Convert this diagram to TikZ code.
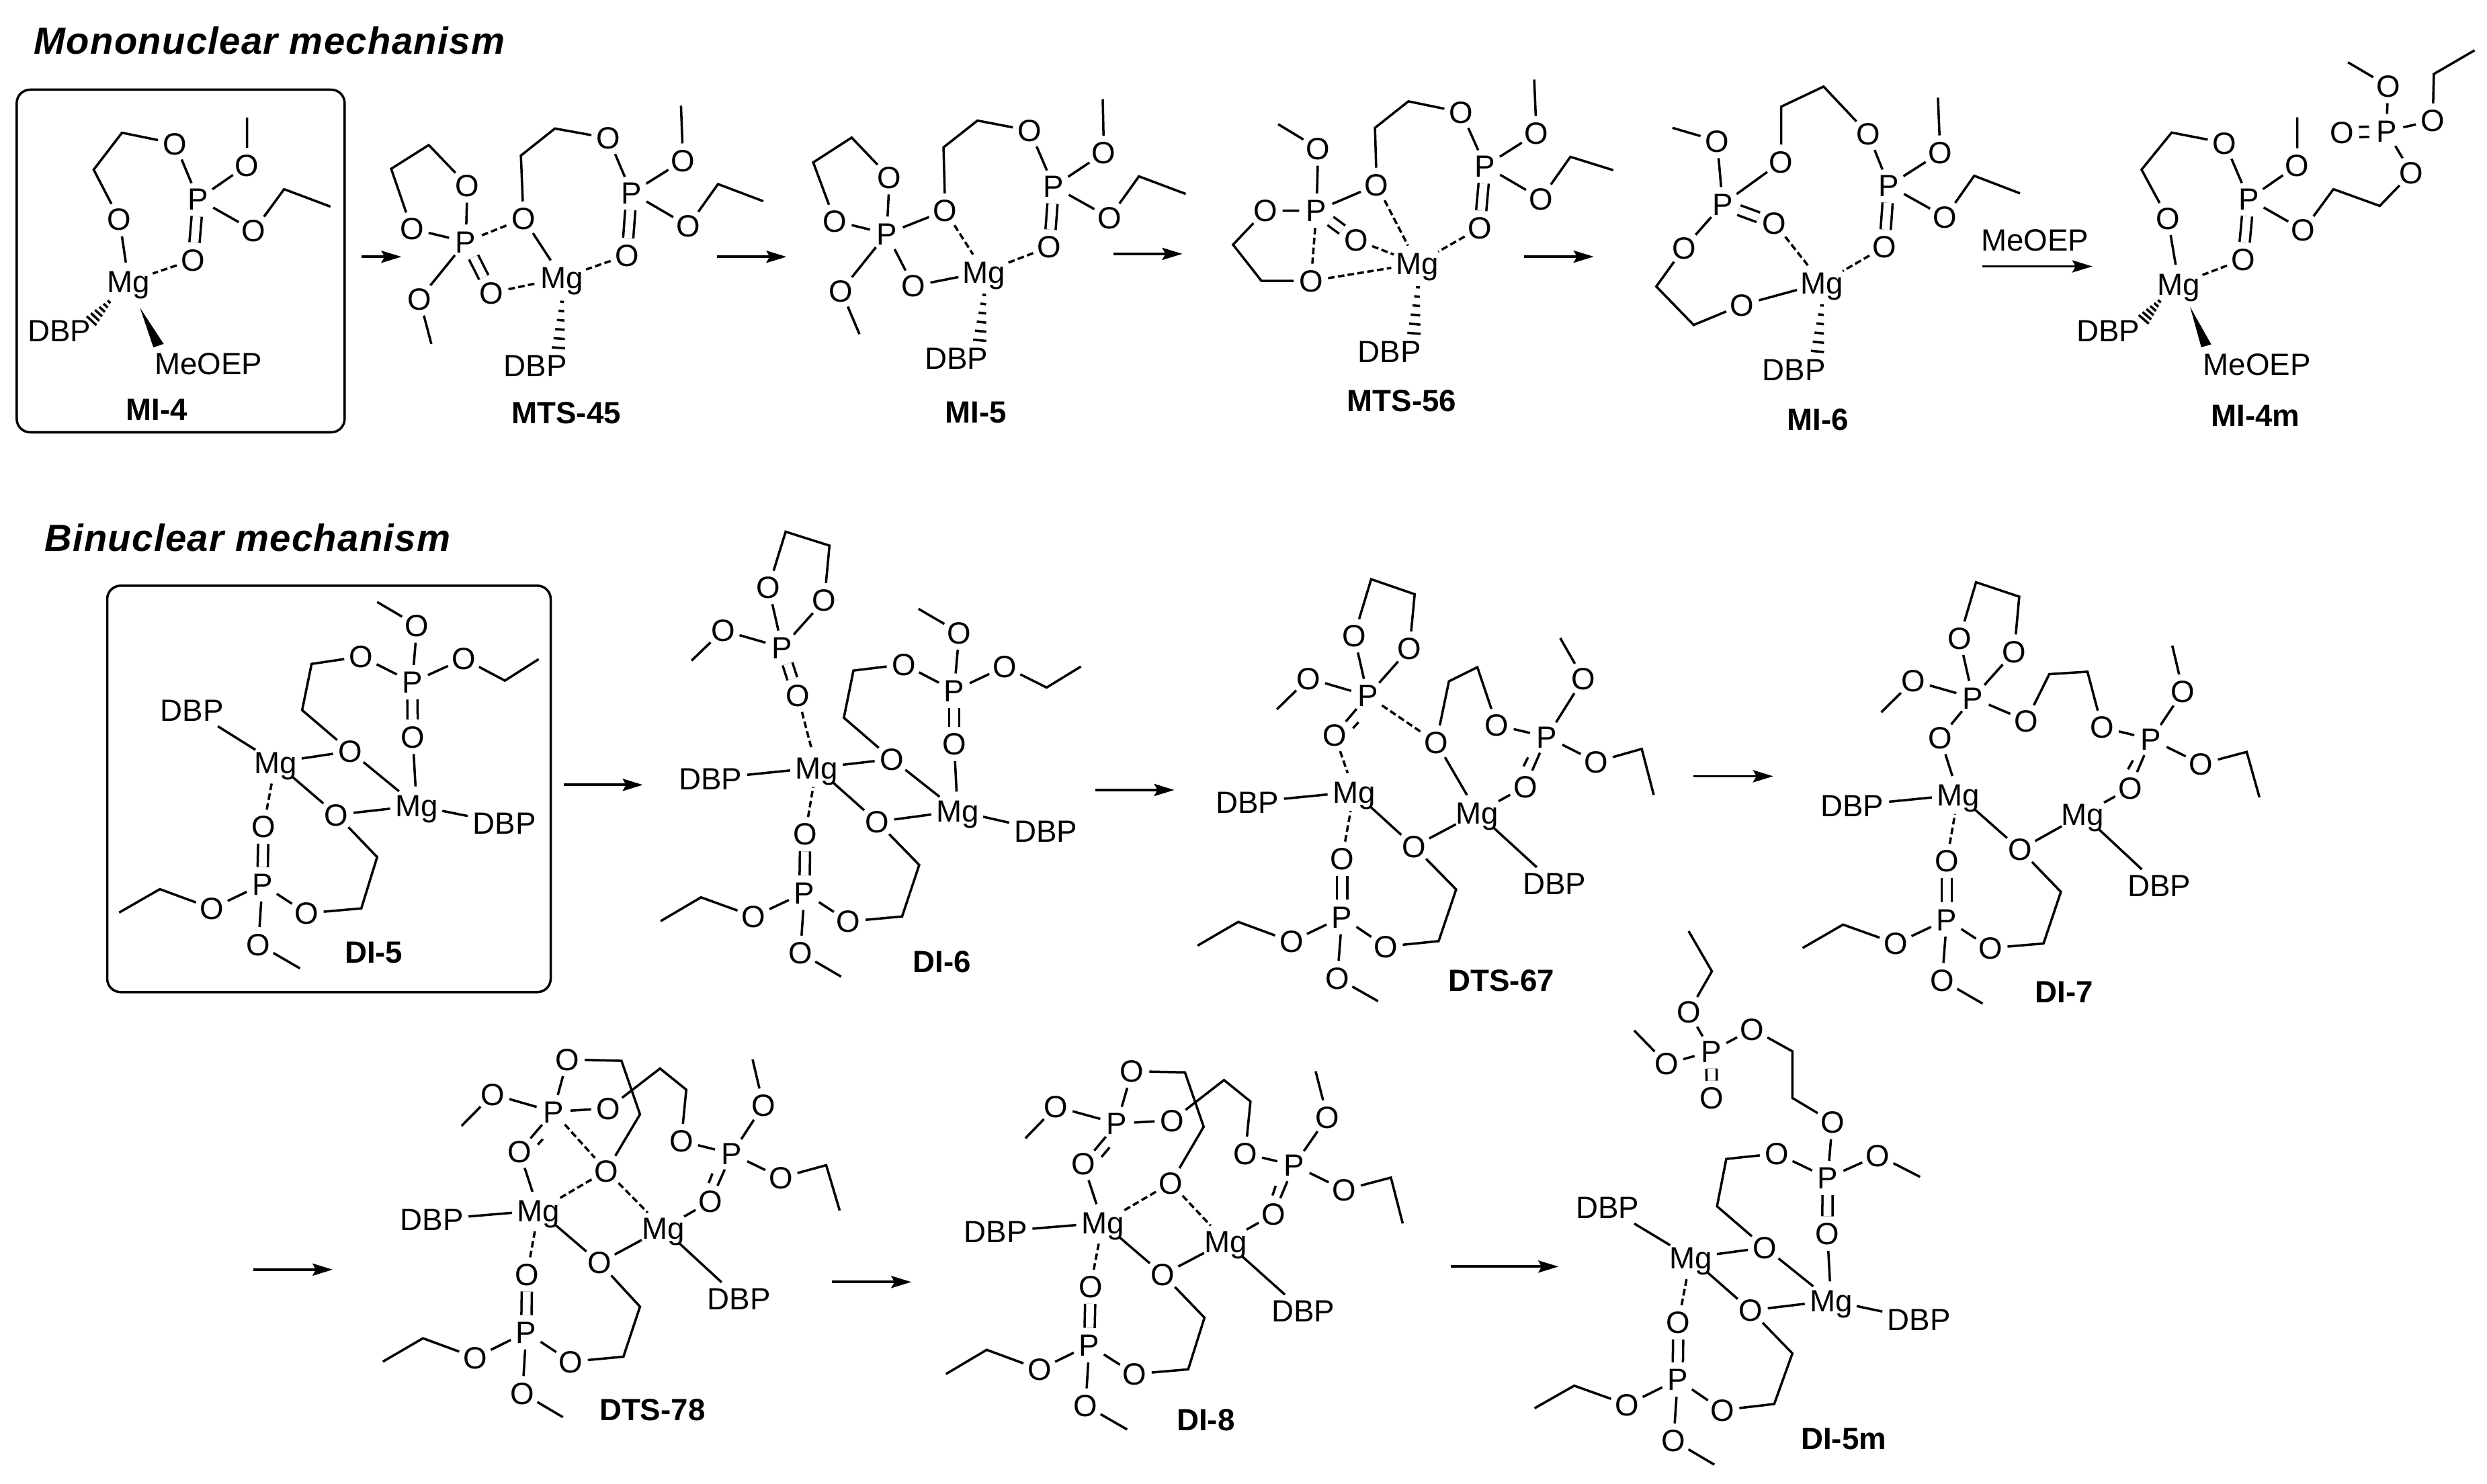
\documentclass[tikz,border=0pt]{standalone}
\usepackage{fontspec}
\setmainfont{Liberation Sans}
\usetikzlibrary{arrows.meta,calc,shapes.geometric}
\tikzset{
 atomtxt/.style={inner sep=0pt,text height=9.3pt,text depth=0pt,font=\fontsize{13}{13}\selectfont},
 atom/.style={atomtxt,circle,minimum size=.5cm},
 mgatom/.style={atomtxt,ellipse,inner xsep=-2.5pt,minimum width=.78cm,minimum height=.56cm},
 group/.style={atomtxt,rectangle,inner sep=2pt},
 cmpd/.style={inner sep=0pt,font=\fontsize{13}{13}\bfseries\selectfont},
 headline/.style={inner sep=0pt,anchor=west,font=\fontsize{16}{16}\bfseries\itshape\selectfont\addfontfeature{LetterSpace=2.4}},
 bond/.style={line width=1pt,line join=miter},
 dbl/.style={line width=1pt,double,double distance=3.3pt},
 part/.style={line width=1pt,dash pattern=on 2.8pt off 1.4pt},
 hashline/.style={line width=1pt},
 rxn/.style={line width=1.1pt,-{Stealth[length=.3cm,width=.18cm,inset=.05cm]}},
 panel/.style={draw,line width=1pt,rounded corners=.2cm,inner sep=0pt},
 fa/.style={x=.007653cm,y=-.004464cm},
 fb/.style={xshift=11cm,yshift=-.5cm,x=.008291cm,y=-.004145cm},
 fc/.style={xshift=24cm,yshift=-.5cm,x=.008297cm,y=-.004145cm},
 fd/.style={yshift=-7.6cm,x=.006378cm,y=-.004783cm},
 fe/.style={xshift=9.5cm,yshift=-7.8cm,x=.005102cm,y=-.004592cm},
 ff/.style={xshift=17.5cm,yshift=-8.3cm,x=.005102cm,y=-.004464cm},
 fg/.style={xshift=25cm,yshift=-8.3cm,x=.00574cm,y=-.004464cm},
 fh/.style={xshift=3.5cm,yshift=-15.3cm,x=.00574cm,y=-.004082cm},
 fi/.style={xshift=12.2cm,yshift=-15.3cm,x=.006059cm,y=-.004082cm},
 fj/.style={xshift=21.5cm,yshift=-13.7cm,x=.005102cm,y=-.005344cm},
}
% atoms: name, x, y in the local frame
\newcommand\OO[3]{\node[atom] (#1) at (#2,#3) {O};}
\newcommand\PP[3]{\node[atom] (#1) at (#2,#3) {P};}
\newcommand\MG[3]{\node[mgatom] (#1) at (#2,#3) {Mg};}
\newcommand\DBP[3]{\node[group] (#1) at (#2,#3) {DBP};}
\newcommand\CC[3]{\coordinate (#1) at (#2,#3);}
% hashed bond between two named coordinates, widening towards the second
\newcommand\hashb[2]{\foreach \hi in {0,...,5}{%
  \pgfmathsetmacro\hashT{\hi/5}%
  \pgfmathsetmacro\hashH{0.8+\hi*0.4}%
  \draw[hashline] ($(#1)!\hashT!(#2)+($(#1)!\hashH pt!90:(#2)$)-(#1)$) -- ($(#1)!\hashT!(#2)+($(#1)!\hashH pt!-90:(#2)$)-(#1)$);}}
\newcommand\RX[4]{\coordinate (#1a) at (#2,#4);\coordinate (#1b) at (#3,#4);\draw[rxn] (#1a) -- (#1b);}
\begin{document}
\begin{tikzpicture}
\useasboundingbox (0,0) rectangle (37.01,-22.08);
% ---------- MI-4, MTS-45
\begin{scope}[fa,name prefix=mi4-]
\node[headline] (title) at (65,135) {Mononuclear mechanism};
\node[panel,minimum width=4.88cm,minimum height=5.10cm] (box) at (351,869) {};
\OO{o1}{340}{478}\CC{c1}{237}{442}\CC{c2}{182}{565}\OO{o2}{232}{730}\MG{mg}{250}{938}
\PP{p}{385}{663}\OO{o3}{480}{550}\CC{m}{480}{392}\OO{o4}{493}{768}\CC{c3}{552}{630}\CC{c4}{642}{688}
\OO{o5}{375}{865}\DBP{d}{115}{1100}
\node[group] (meoep) at (405,1210) {MeOEP};
\node[cmpd] (lab) at (305,1365) {MI-4};
\draw[bond] (o1)--(c1)--(c2)--(o2);\draw[bond] (o2)--(mg);\draw[bond] (o1)--(p);
\draw[bond] (p)--(o3)--(m);\draw[bond] (p)--(o4)--(c3)--(c4);
\draw[dbl] (p)--(o5);\draw[part] (o5)--(mg);
\CC{hs}{212}{1005}\CC{he}{178}{1068}\hashb{hs}{he}
\fill (272,1025)--(298,1157)--(318,1145)--cycle;
\RX{r1}{703}{780}{855}
\end{scope}
\begin{scope}[fa,name prefix=mts45-]
\OO{o1}{908}{617}\CC{c1}{833}{483}\CC{c2}{760}{562}\OO{o2}{800}{762}\PP{p}{905}{805}
\OO{o3}{815}{995}\CC{m}{838}{1145}\OO{o4}{955}{975}\OO{o5}{1017}{728}\CC{c3}{1012}{518}\CC{c4}{1078}{428}
\OO{o6}{1182}{460}\PP{p2}{1227}{642}\OO{o7}{1327}{535}\CC{m2}{1323}{352}\OO{o8}{1337}{752}
\CC{c5}{1395}{613}\CC{c6}{1483}{670}\OO{o9}{1218}{850}\MG{mg}{1092}{925}\DBP{d}{1040}{1218}
\node[cmpd] (lab) at (1100,1375) {MTS-45};
\draw[bond] (p)--(o1)--(c1)--(c2)--(o2)--(p);\draw[bond] (p)--(o3)--(m);\draw[dbl] (p)--(o4);
\draw[part] (p)--(o5);\draw[part] (o4)--(mg);\draw[bond] (o5)--(mg);
\draw[bond] (o5)--(c3)--(c4)--(o6)--(p2);\draw[bond] (p2)--(o7)--(m2);\draw[bond] (p2)--(o8)--(c5)--(c6);
\draw[dbl] (p2)--(o9);\draw[part] (o9)--(mg);
\CC{hs}{1092}{1005}\CC{he}{1085}{1158}\hashb{hs}{he}
\RX{r2}{1393}{1528}{855}
\end{scope}
% ---------- MI-5, MTS-56
\begin{scope}[fb,name prefix=mi5-]
\OO{o1}{270}{515}\CC{c1}{202}{373}\CC{c2}{133}{462}\OO{o2}{172}{672}\PP{p}{265}{718}
\OO{o3}{183}{922}\CC{m}{216}{1078}\OO{o4}{313}{905}\OO{o5}{370}{635}\CC{c3}{367}{408}\CC{c4}{428}{312}
\OO{o6}{522}{348}\PP{p2}{565}{548}\OO{o7}{655}{428}\CC{m2}{653}{235}\OO{o8}{665}{660}
\CC{c5}{718}{512}\CC{c6}{802}{575}\OO{o9}{557}{765}\MG{mg}{440}{855}\DBP{d}{390}{1165}
\node[cmpd] (lab) at (425,1360) {MI-5};
\draw[bond] (p)--(o1)--(c1)--(c2)--(o2)--(p);\draw[bond] (p)--(o3)--(m);\draw[bond] (p)--(o4)--(mg);
\draw[bond] (p)--(o5);\draw[part] (o5)--(mg);
\draw[bond] (o5)--(c3)--(c4)--(o6)--(p2);\draw[bond] (p2)--(o7)--(m2);\draw[bond] (p2)--(o8)--(c5)--(c6);
\draw[dbl] (p2)--(o9);\draw[part] (o9)--(mg);
\CC{hs}{440}{937}\CC{he}{432}{1100}\hashb{hs}{he}
\RX{r3}{672}{796}{790}
\end{scope}
\begin{scope}[fb,name prefix=mts56-]
\CC{m}{968}{325}\OO{o1}{1040}{412}\PP{p}{1037}{635}\OO{o2}{945}{635}\CC{c1}{887}{757}\CC{c2}{938}{887}
\OO{o3}{1027}{887}\OO{o4}{1108}{740}\OO{o5}{1145}{543}\CC{c3}{1142}{338}\CC{c4}{1202}{243}
\OO{o6}{1297}{282}\PP{p2}{1340}{475}\OO{o7}{1432}{358}\CC{m2}{1428}{165}\OO{o8}{1440}{592}
\CC{c5}{1493}{442}\CC{c6}{1570}{490}\OO{o9}{1330}{697}\MG{mg}{1218}{825}\DBP{d}{1168}{1140}
\node[cmpd] (lab) at (1190,1318) {MTS-56};
\draw[bond] (m)--(o1)--(p);\draw[bond] (p)--(o2)--(c1)--(c2)--(o3);
\draw[part] (p)--(o3);\draw[part] (o3)--(mg);\draw[dbl] (p)--(o4);\draw[part] (o4)--(mg);
\draw[bond] (p)--(o5);\draw[part] (o5)--(mg);
\draw[bond] (o5)--(c3)--(c4)--(o6)--(p2);\draw[bond] (p2)--(o7)--(m2);\draw[bond] (p2)--(o8)--(c5)--(c6);
\draw[dbl] (p2)--(o9);\draw[part] (o9)--(mg);
\CC{hs}{1219}{910}\CC{he}{1212}{1075}\hashb{hs}{he}
\RX{r4}{1410}{1535}{800}
\end{scope}
% ---------- MI-6, MI-4m
\begin{scope}[fc,name prefix=mi6-]
\CC{m}{107}{338}\OO{o1}{187}{385}\PP{p}{197}{612}\OO{o2}{290}{680}\OO{o3}{128}{768}\CC{c1}{78}{907}\CC{c2}{145}{1045}
\OO{o4}{232}{973}\MG{mg}{375}{895}\OO{o5}{302}{460}\CC{c3}{302}{262}\CC{c4}{378}{190}\OO{o6}{458}{360}
\PP{p2}{495}{545}\OO{o7}{587}{427}\CC{m2}{583}{230}\OO{o8}{596}{658}\CC{c5}{648}{510}\CC{c6}{730}{573}
\OO{o9}{487}{765}\DBP{d}{325}{1205}
\node[cmpd] (lab) at (368,1385) {MI-6};
\draw[bond] (m)--(o1)--(p);\draw[dbl] (p)--(o2);\draw[part] (o2)--(mg);
\draw[bond] (p)--(o3)--(c1)--(c2)--(o4)--(mg);
\draw[bond] (p)--(o5)--(c3)--(c4)--(o6)--(p2);\draw[bond] (p2)--(o7)--(m2);\draw[bond] (p2)--(o8)--(c5)--(c6);
\draw[dbl] (p2)--(o9);\draw[part] (o9)--(mg);
\CC{hs}{375}{975}\CC{he}{367}{1140}\hashb{hs}{he}
\RX{r5}{662}{860}{835}
\node[group] (reag) at (757,740) {MeOEP};
\end{scope}
\begin{scope}[fc,name prefix=mi4m-]
\OO{o1}{1097}{392}\CC{c1}{1002}{355}\CC{c2}{948}{488}\OO{o2}{995}{662}\MG{mg}{1015}{898}\PP{p}{1140}{593}
\OO{o3}{1227}{473}\CC{m}{1227}{300}\OO{o4}{1238}{705}\CC{c3}{1292}{558}\CC{c4}{1375}{618}\OO{o5}{1432}{500}
\PP{p2}{1387}{350}\OO{o6}{1307}{355}\OO{o7}{1390}{188}\CC{m2}{1318}{103}\OO{o8}{1470}{312}\CC{c5}{1472}{145}\CC{c6}{1545}{60}
\OO{o9}{1130}{810}\DBP{d}{888}{1065}
\node[group] (meoep) at (1155,1185) {MeOEP};
\node[cmpd] (lab) at (1152,1370) {MI-4m};
\draw[bond] (o1)--(c1)--(c2)--(o2)--(mg);\draw[bond] (o1)--(p);\draw[bond] (p)--(o3)--(m);
\draw[bond] (p)--(o4)--(c3)--(c4)--(o5)--(p2);\draw[dbl] (p2)--(o6);\draw[bond] (p2)--(o7)--(m2);
\draw[bond] (p2)--(o8)--(c5)--(c6);\draw[dbl] (p)--(o9);\draw[part] (o9)--(mg);
\CC{hs}{980}{960}\CC{he}{952}{1025}\hashb{hs}{he}
\fill (1035,980)--(1055,1125)--(1073,1115)--cycle;
\end{scope}
% ---------- DI-5
\begin{scope}[fd,name prefix=di5-]
\node[headline] (title) at (103,85) {Binuclear mechanism};
\node[panel,minimum width=6.6cm,minimum height=6.05cm] (box) at (767.5,867.5) {};
\CC{m}{880}{285}\OO{o1}{973}{358}\PP{p}{962}{535}\OO{o2}{843}{455}\CC{c1}{727}{478}\CC{c2}{705}{622}\OO{o3}{817}{750}
\OO{o4}{1082}{462}\CC{c3}{1178}{530}\CC{c4}{1257}{463}\OO{o5}{963}{705}\MG{mg2}{972}{920}\MG{mg1}{643}{785}
\DBP{d1}{448}{622}\OO{o6}{785}{948}\DBP{d2}{1177}{975}\OO{o7}{615}{985}\PP{p3}{612}{1165}
\OO{o8}{495}{1240}\CC{c5}{373}{1180}\CC{c6}{278}{1253}\OO{o9}{715}{1255}\CC{c7}{843}{1240}\CC{c8}{880}{1080}
\OO{o10}{603}{1352}\CC{m3}{700}{1427}
\node[cmpd] (lab) at (872,1378) {DI-5};
\draw[bond] (m)--(o1)--(p);\draw[bond] (p)--(o2)--(c1)--(c2)--(o3);\draw[bond] (p)--(o4)--(c3)--(c4);
\draw[dbl] (p)--(o5);\draw[bond] (o5)--(mg2);\draw[bond] (d1)--(mg1)--(o3)--(mg2);
\draw[bond] (mg1)--(o6)--(mg2)--(d2);\draw[part] (o7)--(mg1);\draw[dbl] (o7)--(p3);
\draw[bond] (p3)--(o8)--(c5)--(c6);\draw[bond] (p3)--(o9)--(c7)--(c8)--(o6);\draw[bond] (p3)--(o10)--(m3);
\RX{r6}{1315}{1500}{855}
\end{scope}
% ---------- DI-6
\begin{scope}[fe,name prefix=di6-]
\OO{o1}{380}{205}\CC{c1}{430}{25}\CC{c2}{558}{70}\OO{o2}{543}{247}\PP{p}{420}{400}\OO{o3}{247}{345}\CC{m}{155}{443}
\OO{o4}{465}{555}\MG{mg1}{520}{790}\DBP{d1}{210}{825}\OO{o5}{740}{762}\CC{c3}{600}{628}\CC{c4}{628}{475}
\OO{o6}{775}{455}\PP{p2}{922}{540}\OO{o7}{937}{352}\CC{m2}{818}{275}\OO{o8}{1070}{462}\CC{c5}{1192}{530}\CC{c6}{1292}{462}
\OO{o9}{922}{713}\MG{mg2}{932}{930}\OO{o10}{697}{965}\DBP{d2}{1190}{995}\OO{o11}{487}{1005}\PP{p3}{485}{1195}
\OO{o12}{337}{1272}\CC{c7}{183}{1210}\CC{c8}{65}{1287}\OO{o13}{613}{1288}\CC{c9}{770}{1272}\CC{c10}{820}{1105}
\OO{o14}{473}{1390}\CC{m3}{592}{1467}
\node[cmpd] (lab) at (887,1420) {DI-6};
\draw[bond] (p)--(o1)--(c1)--(c2)--(o2)--(p);\draw[bond] (p)--(o3)--(m);\draw[dbl] (p)--(o4);\draw[part] (o4)--(mg1);
\draw[bond] (d1)--(mg1)--(o5)--(mg2);\draw[bond] (o5)--(c3)--(c4)--(o6)--(p2);\draw[bond] (p2)--(o7)--(m2);
\draw[bond] (p2)--(o8)--(c5)--(c6);\draw[dbl] (p2)--(o9);\draw[bond] (o9)--(mg2);
\draw[bond] (mg1)--(o10)--(mg2)--(d2);\draw[part] (o11)--(mg1);\draw[dbl] (o11)--(p3);
\draw[bond] (p3)--(o12)--(c7)--(c8);\draw[bond] (p3)--(o13)--(c9)--(c10)--(o10);\draw[bond] (p3)--(o14)--(m3);
\RX{r7}{1335}{1565}{862}
\end{scope}
% ---------- DTS-67
\begin{scope}[ff,name prefix=dts67-]
\OO{o1}{520}{260}\CC{c1}{570}{72}\CC{c2}{697}{122}\OO{o2}{682}{303}\PP{p}{560}{460}\OO{o3}{387}{402}\CC{m}{295}{505}
\OO{o4}{463}{590}\OO{o5}{760}{615}\CC{c3}{797}{412}\CC{c4}{880}{365}\OO{o6}{937}{558}\PP{p2}{1083}{597}
\OO{o7}{1190}{403}\CC{m2}{1122}{268}\OO{o8}{1227}{680}\CC{c5}{1360}{637}\CC{c6}{1395}{790}\OO{o9}{1020}{762}
\MG{mg2}{880}{850}\MG{mg1}{520}{780}\DBP{d1}{208}{815}\OO{o10}{695}{962}\DBP{d2}{1105}{1085}\OO{o11}{485}{1002}\PP{p3}{485}{1197}
\OO{o12}{337}{1278}\CC{c7}{182}{1213}\CC{c8}{63}{1292}\OO{o13}{612}{1295}\CC{c9}{767}{1277}\CC{c10}{818}{1105}
\OO{o14}{471}{1400}\CC{m3}{590}{1477}
\node[cmpd] (lab) at (950,1408) {DTS-67};
\draw[bond] (p)--(o1)--(c1)--(c2)--(o2)--(p);\draw[bond] (p)--(o3)--(m);\draw[bond] (p)--(o4);
\draw[bond] (533,548)--(517,568);\draw[part] (o4)--(mg1);\draw[part] (p)--(o5);
\draw[bond] (o5)--(c3)--(c4)--(o6)--(p2);\draw[bond] (p2)--(o7)--(m2);\draw[bond] (p2)--(o8)--(c5)--(c6);
\draw[bond] (p2)--(o9)--(mg2);\draw[bond] (1028,665)--(1015,695);\draw[bond] (o5)--(mg2);
\draw[bond] (d1)--(mg1)--(o10)--(mg2);\draw[bond] (mg2)--(d2);\draw[part] (o11)--(mg1);\draw[dbl] (o11)--(p3);
\draw[bond] (p3)--(o12)--(c7)--(c8);\draw[bond] (p3)--(o13)--(c9)--(c10)--(o10);\draw[bond] (p3)--(o14)--(m3);
\end{scope}
% ---------- DI-7
\begin{scope}[fg,name prefix=di7-]
\RX{r8}{35}{242}{728}
\OO{o1}{725}{268}\CC{c1}{768}{82}\CC{c2}{880}{130}\OO{o2}{867}{313}\PP{p}{760}{467}\OO{o3}{605}{410}\CC{m}{522}{515}
\OO{o4}{675}{600}\OO{o5}{898}{543}\CC{c3}{958}{388}\CC{c4}{1057}{380}\OO{o6}{1095}{565}\PP{p2}{1222}{605}
\OO{o7}{1305}{445}\CC{m2}{1277}{293}\OO{o8}{1352}{687}\CC{c5}{1470}{647}\CC{c6}{1503}{798}\OO{o9}{1168}{767}
\MG{mg2}{1045}{855}\MG{mg1}{722}{790}\DBP{d1}{447}{825}\OO{o10}{882}{972}\DBP{d2}{1243}{1092}\OO{o11}{692}{1010}\PP{p3}{692}{1205}
\OO{o12}{560}{1285}\CC{c7}{423}{1222}\CC{c8}{318}{1300}\OO{o13}{805}{1300}\CC{c9}{943}{1285}\CC{c10}{988}{1113}
\OO{o14}{680}{1407}\CC{m3}{785}{1485}
\node[cmpd] (lab) at (997,1447) {DI-7};
\draw[bond] (p)--(o1)--(c1)--(c2)--(o2)--(p);\draw[bond] (p)--(o3)--(m);\draw[bond] (p)--(o4)--(mg1);
\draw[bond] (p)--(o5)--(c3)--(c4)--(o6)--(p2);\draw[bond] (p2)--(o7)--(m2);\draw[bond] (p2)--(o8)--(c5)--(c6);
\draw[bond] (p2)--(o9)--(mg2);\draw[bond] (1175,675)--(1162,705);
\draw[bond] (d1)--(mg1)--(o10)--(mg2);\draw[bond] (mg2)--(d2);\draw[part] (o11)--(mg1);\draw[dbl] (o11)--(p3);
\draw[bond] (p3)--(o12)--(c7)--(c8);\draw[bond] (p3)--(o13)--(c9)--(c10)--(o10);\draw[bond] (p3)--(o14)--(m3);
\end{scope}
% ---------- DTS-78
\begin{scope}[fh,name prefix=dts78-]
\RX{r9}{47}{253}{880}
\OO{o1}{862}{115}\CC{c1}{1002}{120}\CC{c2}{1050}{315}\OO{o2}{963}{520}\PP{p}{825}{305}\OO{o3}{668}{242}\CC{m}{587}{357}
\OO{o4}{968}{293}\CC{c3}{1102}{148}\CC{c4}{1170}{225}\OO{o5}{1157}{412}\PP{p2}{1288}{458}\OO{o6}{1370}{282}\CC{m2}{1342}{115}
\OO{o7}{1415}{545}\CC{c5}{1533}{500}\CC{c6}{1568}{665}\OO{o8}{1233}{632}\MG{mg2}{1110}{730}\MG{mg1}{787}{665}\OO{o9}{737}{450}
\DBP{d1}{510}{698}\OO{o10}{945}{855}\DBP{d2}{1307}{985}\OO{o11}{757}{897}\PP{p3}{755}{1108}
\OO{o12}{623}{1200}\CC{c7}{487}{1130}\CC{c8}{383}{1215}\OO{o13}{870}{1215}\CC{c9}{1007}{1197}\CC{c10}{1050}{1015}
\OO{o14}{745}{1330}\CC{m3}{850}{1417}
\node[cmpd] (lab) at (1082,1392) {DTS-78};
\draw[bond] (p)--(o1)--(c1)--(c2)--(o2);\draw[bond] (p)--(o3)--(m);\draw[bond] (p)--(o4)--(c3)--(c4)--(o5)--(p2);
\draw[bond] (p2)--(o6)--(m2);\draw[bond] (p2)--(o7)--(c5)--(c6);\draw[bond] (p2)--(o8)--(mg2);\draw[bond] (1238,530)--(1228,565);
\draw[bond] (p)--(o9)--(mg1);\draw[bond] (798,405)--(785,425);
\draw[part] (p)--(o2);\draw[part] (o2)--(mg1);\draw[part] (o2)--(mg2);
\draw[bond] (d1)--(mg1)--(o10)--(mg2);\draw[bond] (mg2)--(d2);\draw[part] (o11)--(mg1);\draw[dbl] (o11)--(p3);
\draw[bond] (p3)--(o12)--(c7)--(c8);\draw[bond] (p3)--(o13)--(c9)--(c10)--(o10);\draw[bond] (p3)--(o14)--(m3);
\end{scope}
% ---------- DI-8
\begin{scope}[fi,name prefix=di8-]
\RX{r10}{30}{225}{925}
\OO{o1}{767}{158}\CC{c1}{897}{162}\CC{c2}{943}{360}\OO{o2}{862}{565}\PP{p}{730}{348}\OO{o3}{580}{287}\CC{m}{505}{402}
\OO{o4}{865}{337}\CC{c3}{993}{190}\CC{c4}{1058}{268}\OO{o5}{1045}{458}\PP{p2}{1165}{500}\OO{o6}{1247}{325}\CC{m2}{1218}{158}
\OO{o7}{1288}{590}\CC{c5}{1403}{545}\CC{c6}{1432}{712}\OO{o8}{1115}{678}\MG{mg2}{997}{778}\MG{mg1}{695}{710}\OO{o9}{647}{495}
\DBP{d1}{432}{742}\OO{o10}{843}{898}\DBP{d2}{1187}{1030}\OO{o11}{665}{942}\PP{p3}{662}{1155}
\OO{o12}{540}{1243}\CC{c7}{410}{1172}\CC{c8}{310}{1260}\OO{o13}{773}{1260}\CC{c9}{905}{1243}\CC{c10}{945}{1055}
\OO{o14}{653}{1375}\CC{m3}{755}{1462}
\node[cmpd] (lab) at (948,1428) {DI-8};
\draw[bond] (p)--(o1)--(c1)--(c2)--(o2);\draw[bond] (p)--(o3)--(m);\draw[bond] (p)--(o4)--(c3)--(c4)--(o5)--(p2);
\draw[bond] (p2)--(o6)--(m2);\draw[bond] (p2)--(o7)--(c5)--(c6);\draw[bond] (p2)--(o8)--(mg2);\draw[bond] (1120,575)--(1112,610);
\draw[bond] (p)--(o9)--(mg1);\draw[bond] (712,435)--(692,470);
\draw[part] (o2)--(mg1);\draw[part] (o2)--(mg2);
\draw[bond] (d1)--(mg1)--(o10)--(mg2);\draw[bond] (mg2)--(d2);\draw[part] (o11)--(mg1);\draw[dbl] (o11)--(p3);
\draw[bond] (p3)--(o12)--(c7)--(c8);\draw[bond] (p3)--(o13)--(c9)--(c10)--(o10);\draw[bond] (p3)--(o14)--(m3);
\end{scope}
% ---------- DI-5m
\begin{scope}[fj,name prefix=di5m-]
\RX{r11}{18}{332}{965}
\CC{c1}{712}{30}\CC{c2}{780}{142}\OO{o1}{712}{255}\PP{p}{778}{365}\OO{o2}{648}{400}\CC{m}{553}{307}\OO{o3}{898}{303}
\CC{c3}{1015}{365}\CC{c4}{1015}{495}\OO{o4}{1132}{562}\OO{o5}{780}{495}\PP{p2}{1118}{718}\OO{o6}{970}{650}\CC{c5}{822}{665}\CC{c6}{795}{797}
\OO{o7}{935}{912}\OO{o8}{1265}{655}\CC{m2}{1388}{715}\OO{o9}{1117}{873}\MG{mg2}{1128}{1060}\MG{mg1}{718}{940}\DBP{d1}{475}{800}
\OO{o10}{893}{1087}\DBP{d2}{1385}{1112}\OO{o11}{682}{1120}\PP{p3}{680}{1280}
\OO{o12}{533}{1350}\CC{c7}{378}{1297}\CC{c8}{262}{1360}\OO{o13}{810}{1365}\CC{c9}{962}{1348}\CC{c10}{1015}{1207}
\OO{o14}{668}{1450}\CC{m3}{787}{1517}
\node[cmpd] (lab) at (1165,1445) {DI-5m};
\draw[bond] (c1)--(c2)--(o1)--(p);\draw[bond] (p)--(o2)--(m);\draw[bond] (p)--(o3)--(c3)--(c4)--(o4)--(p2);\draw[dbl] (p)--(o5);
\draw[bond] (p2)--(o6)--(c5)--(c6)--(o7);\draw[bond] (p2)--(o8)--(m2);\draw[dbl] (p2)--(o9);\draw[bond] (o9)--(mg2);
\draw[bond] (d1)--(mg1)--(o7)--(mg2);\draw[bond] (mg1)--(o10)--(mg2)--(d2);\draw[part] (o11)--(mg1);\draw[dbl] (o11)--(p3);
\draw[bond] (p3)--(o12)--(c7)--(c8);\draw[bond] (p3)--(o13)--(c9)--(c10)--(o10);\draw[bond] (p3)--(o14)--(m3);
\end{scope}
\end{tikzpicture}
\end{document}
